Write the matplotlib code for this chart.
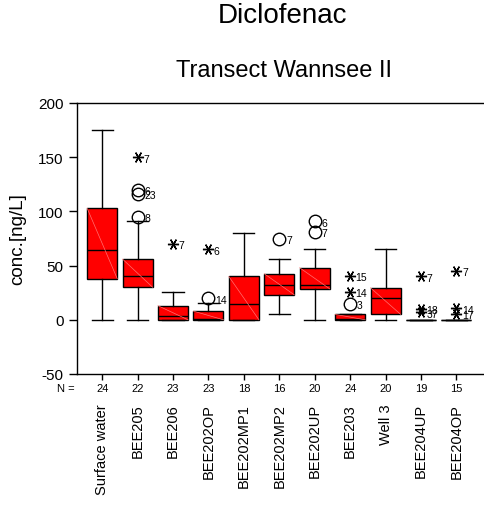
import matplotlib
matplotlib.use("Agg")
import matplotlib.pyplot as plt
from matplotlib.transforms import blended_transform_factory

plt.rcParams['font.family'] = ['Liberation Sans', 'DejaVu Sans']
plt.rcParams['axes.unicode_minus'] = False

categories = ['Surface water', 'BEE205', 'BEE206', 'BEE202OP', 'BEE202MP1',
              'BEE202MP2', 'BEE202UP', 'BEE203', 'Well 3', 'BEE204UP', 'BEE204OP']
n_counts = [24, 22, 23, 23, 18, 16, 20, 24, 20, 19, 15]
whisker_low = [0, 0, 0, 0, 0, 5, 0, 0, 0, 0, 0]
q1 = [38, 30, 0, 0, 0, 23, 28.5, 0, 5, 0, 0]
median = [64.5, 40, 3.5, 0.5, 15, 32, 32, 1, 20.5, 0, 0]
q3 = [103, 56, 13, 8, 40, 42.5, 48, 5, 29.5, 0, 0]
whisker_high = [175, 91, 26, 15.5, 80, 56, 65, 5, 65, 0, 0]

# outliers (circles) and extremes (stars): (group index, value, case label)
outlier_group = [1, 1, 1, 3, 5, 6, 6, 7]
outlier_value = [95, 116, 120, 20, 75, 81, 91, 15]
outlier_label = ['8', '23', '6', '14', '7', '7', '6', '3']

extreme_group = [1, 2, 3, 7, 7, 9, 9, 9, 10, 10, 10]
extreme_value = [150, 70, 65, 26, 40.5, 40, 10, 7, 45, 10.5, 5.5]
extreme_label = ['7', '7', '6', '14', '15', '7', '18', '37', '7', '14', '17']

fig = plt.figure(figsize=(4.84, 5.06), dpi=100)
ax = fig.add_axes([77/484, 1-375/506, 406/484, 271/506])

stats = []
for i in range(len(categories)):
    stats.append(dict(med=median[i], q1=q1[i], q3=q3[i],
                      whislo=whisker_low[i], whishi=whisker_high[i], fliers=[]))
positions = list(range(len(categories)))
bp = ax.bxp(stats, positions=positions, widths=0.85, patch_artist=True,
            showfliers=False,
            boxprops=dict(facecolor='#ff0000', edgecolor='black', linewidth=1.0),
            medianprops=dict(color='black', linewidth=1.0),
            whiskerprops=dict(color='black', linewidth=1.0),
            capprops=dict(color='black', linewidth=1.0),
            capwidths=0.6)

# faint diagonal in boxes
for i in positions:
    if q3[i] - q1[i] > 1:
        ax.plot([i - 0.425, i + 0.425], [q3[i], q1[i]], color='#ff7070',
                lw=0.5, zorder=3)

for g, v, lab in zip(outlier_group, outlier_value, outlier_label):
    ax.plot(g, v, marker='o', markersize=9, markerfacecolor='none',
            markeredgecolor='black', markeredgewidth=1.0, zorder=4)
    ax.annotate(lab, (g, v), xytext=(5, -1), textcoords='offset points',
                fontsize=7.5, va='center', ha='left')

for g, v, lab in zip(extreme_group, extreme_value, extreme_label):
    ax.plot(g, v, marker=(6, 2, 30), markersize=8, color='black',
            markeredgewidth=1.0, zorder=4)
    ax.annotate(lab, (g, v), xytext=(4, -1), textcoords='offset points',
                fontsize=7.5, va='center', ha='left')

ax.set_xlim(-0.71, 10.75)
ax.set_ylim(-50, 200)
ax.set_yticks([-50, 0, 50, 100, 150, 200])
ax.tick_params(axis='y', direction='out', length=6, labelsize=11, width=1)
ax.set_xticks(positions)
ax.set_xticklabels(categories, rotation=90, fontsize=10.5, va='top')
ax.tick_params(axis='x', direction='out', length=4, pad=17, width=1)
ax.spines['right'].set_visible(False)
for s in ['left', 'top', 'bottom']:
    ax.spines[s].set_linewidth(1.0)

ax.set_ylabel('conc.[ng/L]', fontsize=13.5, va='center')
ax.yaxis.set_label_coords(-59/406, 0.5)

trans = blended_transform_factory(ax.transData, ax.transAxes)
for i, nn in enumerate(n_counts):
    ax.text(i, -0.052, str(nn), transform=trans, ha='center', va='center', fontsize=8)
ax.text(-0.005, -0.052, 'N =', transform=ax.transAxes, ha='right', va='center', fontsize=8)

fig.text(282/484, 1-16/506, 'Diclofenac', ha='center', va='center', fontsize=20)
fig.text(284/484, 1-71/506, 'Transect Wannsee II', ha='center', va='center', fontsize=17)

fig.savefig('out.png', dpi=100)
